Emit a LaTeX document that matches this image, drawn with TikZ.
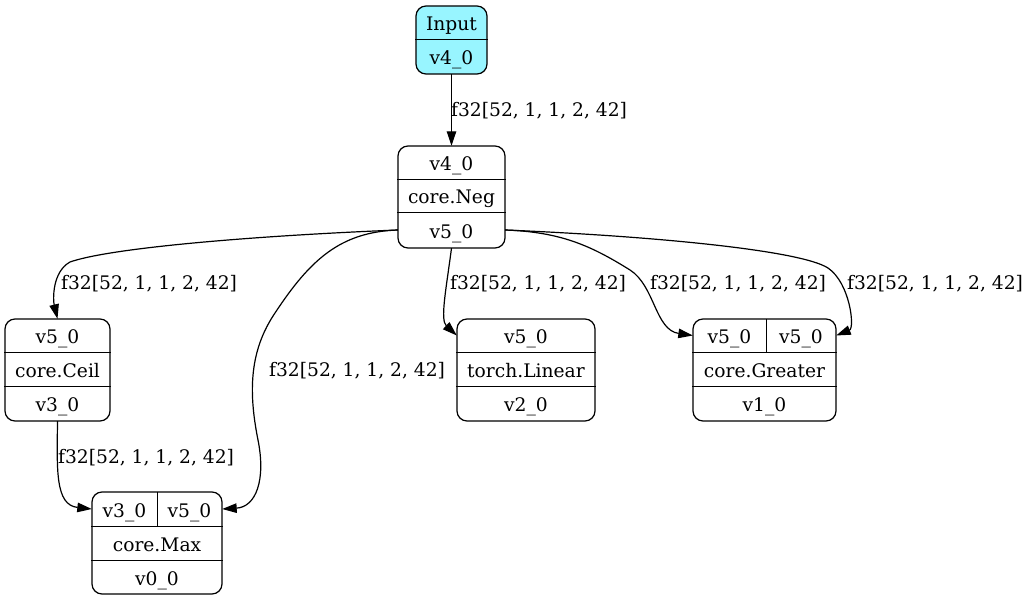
\documentclass[tikz,border=0pt]{standalone}
\usepackage{fontspec}
\setmainfont{DejaVu Serif}
\usetikzlibrary{arrows.meta}
\definecolor{inpfill}{HTML}{98F5FF}
\begin{document}
\begin{tikzpicture}[x=1pt,y=-1pt,
  frame/.style={draw=black, line width=1.25pt},
  boxframe/.style={frame, rounded corners=10pt, inner sep=0pt},
  cell/.style={inner sep=0pt, text height=17pt, text depth=0.6pt},
  edge/.style={line width=1.2pt, -{Triangle[length=14.5pt,width=9.5pt]}},
  elabel/.style={anchor=base west, inner sep=0pt},
  every node/.style={font=\fontsize{18.67}{22}\selectfont}]
\useasboundingbox (0,0) rectangle (1028,601);

% Input
\node[boxframe, fill=inpfill, minimum width=71pt, minimum height=68pt] (inp) at (451.5,40) {};
\node[cell, minimum width=71pt, minimum height=33pt] (inpa) at (451.5,22.5) {Input};
\node[cell, minimum width=71pt, minimum height=35pt] (inpb) at (451.5,56.5) {v4\_0};
\draw[frame] (inp.west |- inpa.south) -- (inp.east |- inpa.south);

% core.Neg
\node[boxframe, minimum width=107pt, minimum height=102pt] (neg) at (451.5,197) {};
\node[cell, minimum width=107pt, minimum height=33pt] (nega) at (451.5,162.5) {v4\_0};
\node[cell, minimum width=107pt, minimum height=33pt] (negb) at (451.5,195.5) {core.Neg};
\node[cell, minimum width=107pt, minimum height=36pt] (negc) at (451.5,230) {v5\_0};
\draw[frame] (neg.west |- nega.south) -- (neg.east |- nega.south);
\draw[frame] (neg.west |- negb.south) -- (neg.east |- negb.south);

% core.Ceil
\node[boxframe, minimum width=105pt, minimum height=102pt] (ceil) at (57.5,370) {};
\node[cell, minimum width=105pt, minimum height=33pt] (ceila) at (57.5,335.5) {v5\_0};
\node[cell, minimum width=105pt, minimum height=34pt] (ceilb) at (57.5,369) {core.Ceil};
\node[cell, minimum width=105pt, minimum height=35pt] (ceilc) at (57.5,403.5) {v3\_0};
\draw[frame] (ceil.west |- ceila.south) -- (ceil.east |- ceila.south);
\draw[frame] (ceil.west |- ceilb.south) -- (ceil.east |- ceilb.south);

% torch.Linear
\node[boxframe, minimum width=138pt, minimum height=102pt] (lin) at (526,370) {};
\node[cell, minimum width=138pt, minimum height=33pt] (lina) at (526,335.5) {v5\_0};
\node[cell, minimum width=138pt, minimum height=34pt] (linb) at (526,369) {torch.Linear};
\node[cell, minimum width=138pt, minimum height=35pt] (linc) at (526,403.5) {v2\_0};
\draw[frame] (lin.west |- lina.south) -- (lin.east |- lina.south);
\draw[frame] (lin.west |- linb.south) -- (lin.east |- linb.south);

% core.Greater
\node[boxframe, minimum width=143pt, minimum height=102pt] (gre) at (764.5,370) {};
\node[cell, minimum width=73pt, minimum height=33pt] (grea) at (729.5,335.5) {v5\_0};
\node[cell, minimum width=70pt, minimum height=33pt] (greb) at (801,335.5) {v5\_0};
\node[cell, minimum width=143pt, minimum height=34pt] (grec) at (764.5,369) {core.Greater};
\node[cell, minimum width=143pt, minimum height=35pt] (gred) at (764.5,403.5) {v1\_0};
\draw[frame] (gre.west |- grea.south) -- (gre.east |- grea.south);
\draw[frame] (gre.west |- grec.south) -- (gre.east |- grec.south);
\draw[frame] (grea.north east) -- (grea.south east);

% core.Max
\node[boxframe, minimum width=130pt, minimum height=102pt] (max) at (157,543) {};
\node[cell, minimum width=65pt, minimum height=34pt] (maxa) at (124.5,509) {v3\_0};
\node[cell, minimum width=65pt, minimum height=34pt] (maxb) at (189.5,509) {v5\_0};
\node[cell, minimum width=130pt, minimum height=34pt] (maxc) at (157,543) {core.Max};
\node[cell, minimum width=130pt, minimum height=34pt] (maxd) at (157,577) {v0\_0};
\draw[frame] (max.west |- maxa.south) -- (max.east |- maxa.south);
\draw[frame] (max.west |- maxc.south) -- (max.east |- maxc.south);
\draw[frame] (maxa.north east) -- (maxa.south east);

% edges
\draw[edge] (inpb.south) -- (nega.north);
\draw[edge] (negc.west) .. controls (250,236) and (110,248) .. (70,262)
  .. controls (52,272) and (53,300) .. (ceila.north);
\draw[edge] (negc.west) .. controls (340,232) and (310,260) .. (275,313)
  .. controls (250,350) and (248,390) .. (258,440)
  .. controls (266,480) and (256,507) .. (maxb.east);
\draw[edge] (negc.south) .. controls (446,290) and (440,320) .. (lina.west);
\draw[edge] (negc.east) .. controls (560,232) and (590,245) .. (630,270)
  .. controls (655,286) and (655,330) .. (grea.west);
\draw[edge] (negc.east) .. controls (650,236) and (800,250) .. (828,268)
  .. controls (850,283) and (855,328) .. (greb.east);
\draw[edge] (ceilc.south) .. controls (57,470) and (55,505) .. (maxa.west);

% edge labels
\node[elabel] (l1) at (451,117) {f32[52, 1, 1, 2, 42]};
\node[elabel] (l2) at (61,290) {f32[52, 1, 1, 2, 42]};
\node[elabel] (l3) at (269,377) {f32[52, 1, 1, 2, 42]};
\node[elabel] (l4) at (450,290) {f32[52, 1, 1, 2, 42]};
\node[elabel] (l5) at (650,290) {f32[52, 1, 1, 2, 42]};
\node[elabel] (l6) at (847,290) {f32[52, 1, 1, 2, 42]};
\node[elabel] (l7) at (58,463) {f32[52, 1, 1, 2, 42]};
\end{tikzpicture}
\end{document}
